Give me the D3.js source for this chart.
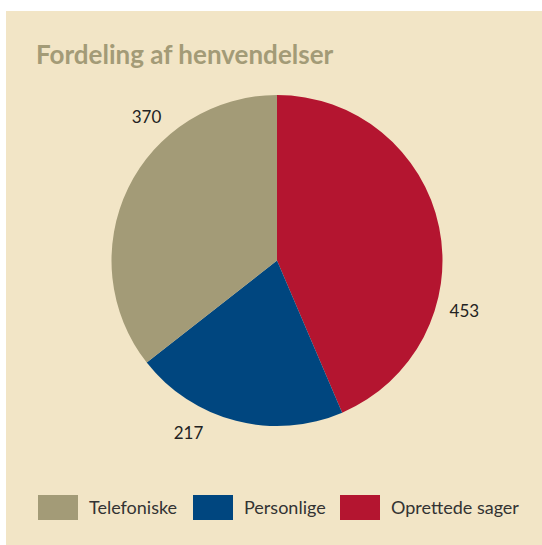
<!DOCTYPE html>
<html>
<head>
<meta charset="utf-8">
<script src="https://cdn.jsdelivr.net/npm/d3@7"></script>
<style>
  body { margin: 0; background: #fff; }
  svg text { font-family: Lato, "Open Sans", sans-serif; }
</style>
</head>
<body>
<div id="chart"></div>
<script>
// data, in legend order
const categories = ["Telefoniske", "Personlige", "Oprettede sager"];
const values = [370, 217, 453];
const colors = ["#a39b77", "#00467f", "#b41530"];
const title = "Fordeling af henvendelser";

const width = 542, height = 545;

const svg = d3.select("#chart")
    .append("svg")
    .attr("width", width)
    .attr("height", height);

// beige panel
svg.append("rect")
    .attr("x", 6)
    .attr("y", 11)
    .attr("width", width - 6)
    .attr("height", height - 11)
    .attr("fill", "#f2e5c6");

svg.append("text")
    .attr("x", 36)
    .attr("y", 64)
    .attr("font-size", 26)
    .attr("font-weight", "bold")
    .attr("fill", "#a39b77")
    .text(title);

// pie goes clockwise from the top, reverse of legend order
const rows = categories.map((c, i) => ({name: c, value: values[i], color: colors[i]})).reverse();

const radius = 165.5;
const cx = 277, cy = 260.5;

const pie = d3.pie().sort(null).value(d => d.value);
const arc = d3.arc().innerRadius(0).outerRadius(radius);
const arcs = pie(rows);

const g = svg.append("g").attr("transform", `translate(${cx},${cy})`);

g.selectAll("path")
    .data(arcs)
    .enter()
    .append("path")
    .attr("d", arc)
    .attr("fill", d => d.data.color);

// value labels sit about two thirds through each slice, just outside
const labelR = 194;
const labelAngle = d => d.startAngle + 0.67 * (d.endAngle - d.startAngle);
g.selectAll("text.val")
    .data(arcs)
    .enter()
    .append("text")
    .attr("class", "val")
    .attr("x", d => labelR * Math.sin(labelAngle(d)))
    .attr("y", d => -labelR * Math.cos(labelAngle(d)))
    .attr("dy", "0.35em")
    .attr("text-anchor", "middle")
    .attr("font-size", 17)
    .attr("fill", "#222")
    .text(d => d.data.value);

// legend
const legendX = [38, 193, 340];
const legend = svg.append("g");
categories.forEach((c, i) => {
    legend.append("rect")
        .attr("x", legendX[i])
        .attr("y", 495)
        .attr("width", 40)
        .attr("height", 25)
        .attr("fill", colors[i]);
    legend.append("text")
        .attr("x", legendX[i] + 51)
        .attr("y", 514)
        .attr("font-size", 18)
        .attr("fill", "#333")
        .text(c);
});
</script>
</body>
</html>
